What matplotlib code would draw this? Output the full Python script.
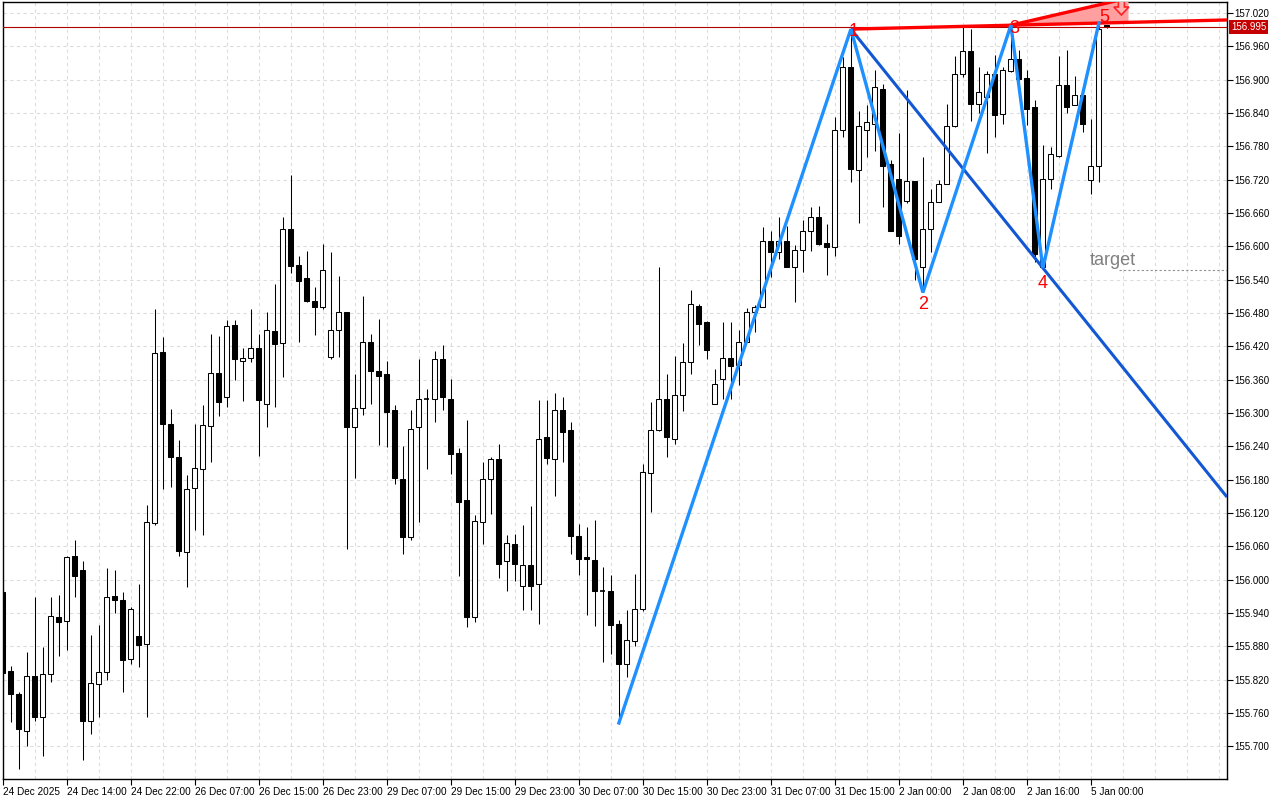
import matplotlib
matplotlib.use('Agg')
import matplotlib.pyplot as plt
from matplotlib.patches import Rectangle, Polygon
from matplotlib import font_manager
import matplotlib.transforms as mtransforms
import numpy as np

avail = {f.name for f in font_manager.fontManager.ttflist}
def pick(*names):
    for n in names:
        if n in avail:
            return n
    return 'DejaVu Sans'
xfont = pick('Liberation Sans Narrow', 'DejaVu Sans Condensed', 'Liberation Sans')
yfont = pick('Liberation Sans', 'Arial', 'DejaVu Sans')
plt.rcParams['font.family'] = [yfont, 'DejaVu Sans']

# ---- data (hourly candles) ----
opens = [155.978,155.836,155.794,155.727,155.827,155.752,155.831,155.932,155.925,156.043,
         156.017,155.746,155.812,155.833,155.971,155.963,155.857,155.898,155.884,156.102,
         156.410,156.280,156.221,156.050,156.165,156.200,156.277,156.372,156.328,156.458,
         156.393,156.399,156.417,156.316,156.447,156.426,156.631,156.566,156.543,156.502,
         156.490,156.400,156.449,156.481,156.274,156.309,156.427,156.376,156.370,156.305,
         156.182,156.077,156.274,156.326,156.325,156.397,156.326,156.228,156.143,155.933,
         156.103,156.182,156.217,156.033,156.064,155.988,156.026,155.992,156.256,156.217,
         156.305,156.269,156.079,156.040,156.035,155.981,155.979,155.920,155.849,155.889,
         155.947,156.192,156.269,156.325,156.254,156.332,156.391,156.493,156.464,156.316,
         156.361,156.399,156.386,156.427,156.481,156.490,156.609,156.589,156.609,156.563,
         156.593,156.627,156.652,156.606,156.598,156.809,156.923,156.737,156.809,156.821,
         156.883,156.749,156.721,156.681,156.717,156.562,156.632,156.680,156.713,156.817,
         156.910,156.952,156.857,156.869,156.910,156.838,156.916,156.937,156.903,156.850,
         156.562,156.721,156.763,156.890,156.854,156.872,156.719,156.744,156.998]
highs = [155.981,155.845,155.798,155.870,155.969,155.879,155.969,155.972,156.043,156.071,
         156.034,155.900,155.918,156.021,156.017,155.978,155.951,155.992,156.134,156.487,
         156.436,156.307,156.251,156.188,156.280,156.314,156.443,156.439,156.467,156.467,
         156.417,156.487,156.442,156.481,156.532,156.653,156.728,156.582,156.592,156.527,
         156.604,156.590,156.547,156.482,156.370,156.511,156.442,156.469,156.394,156.314,
         156.240,156.305,156.397,156.343,156.412,156.422,156.361,156.237,156.287,156.116,
         156.212,156.221,156.245,156.080,156.082,156.098,156.133,156.323,156.323,156.336,
         156.329,156.283,156.100,156.095,156.107,156.022,156.008,155.927,155.945,156.010,
         156.209,156.319,156.563,156.370,156.403,156.426,156.521,156.497,156.466,156.379,
         156.464,156.464,156.449,156.489,156.494,156.635,156.628,156.652,156.637,156.602,
         156.647,156.671,156.673,156.640,156.832,156.941,156.991,156.844,156.854,156.917,
         156.892,156.755,156.804,156.881,156.718,156.761,156.704,156.719,156.856,156.943,
         156.995,156.991,156.923,156.916,156.944,156.923,156.998,156.953,156.917,156.863,
         156.782,156.779,156.943,156.953,156.906,156.872,156.829,157.002,156.999]
lows = [155.827,155.743,155.660,155.701,155.746,155.683,155.816,155.863,155.874,155.968,
        155.675,155.722,155.752,155.820,155.940,155.798,155.848,155.842,155.752,156.098,
        156.164,156.166,156.043,155.987,156.089,156.081,156.211,156.295,156.310,156.360,
        156.322,156.391,156.223,156.274,156.310,156.365,156.552,156.428,156.500,156.441,
        156.487,156.397,156.400,156.055,156.183,156.297,156.316,156.242,156.239,156.172,
        156.046,156.071,156.103,156.200,156.283,156.305,156.191,156.007,155.914,155.924,
        156.065,156.119,156.003,155.980,155.998,155.946,155.946,155.920,156.209,156.151,
        156.211,156.047,156.009,155.937,155.916,155.852,155.866,155.742,155.824,155.881,
        155.944,156.121,156.268,156.220,156.244,156.304,156.370,156.423,156.398,156.316,
        156.326,156.326,156.351,156.427,156.445,156.490,156.545,156.578,156.563,156.500,
        156.553,156.592,156.602,156.549,156.583,156.796,156.716,156.642,156.760,156.772,
        156.671,156.628,156.604,156.678,156.539,156.517,156.589,156.680,156.713,156.815,
        156.905,156.826,156.840,156.768,156.797,156.820,156.914,156.881,156.818,156.572,
        156.561,156.704,156.760,156.840,156.854,156.806,156.695,156.715,156.993]
closes = [155.832,155.794,155.732,155.827,155.752,155.830,155.934,155.924,156.040,156.007,
          155.746,155.814,155.833,155.968,155.964,155.856,155.947,155.883,156.103,156.408,
          156.281,156.220,156.052,156.163,156.201,156.278,156.372,156.319,156.456,156.398,
          156.399,156.417,156.323,156.449,156.424,156.631,156.565,156.538,156.502,156.490,
          156.557,156.449,156.481,156.275,156.309,156.427,156.376,156.367,156.302,156.183,
          156.077,156.272,156.325,156.325,156.397,156.328,156.227,156.140,155.933,156.105,
          156.182,156.217,156.029,156.066,156.029,156.026,155.989,156.254,156.219,156.305,
          156.265,156.079,156.038,156.038,155.980,155.980,155.919,155.848,155.891,155.947,
          156.193,156.269,156.326,156.257,156.332,156.391,156.496,156.461,156.414,156.352,
          156.399,156.385,156.427,156.481,156.491,156.609,156.589,156.609,156.563,156.593,
          156.627,156.652,156.604,156.598,156.809,156.923,156.740,156.816,156.823,156.886,
          156.745,156.628,156.619,156.717,156.578,156.632,156.680,156.713,156.817,156.910,
          156.952,156.857,156.877,156.910,156.836,156.917,156.937,156.901,156.847,156.586,
          156.721,156.766,156.890,156.851,156.872,156.820,156.744,156.992,156.995]

time_labels = ['24 Dec 2025', '24 Dec 14:00', '24 Dec 22:00', '26 Dec 07:00', '26 Dec 15:00',
               '26 Dec 23:00', '29 Dec 07:00', '29 Dec 15:00', '29 Dec 23:00', '30 Dec 07:00',
               '30 Dec 15:00', '30 Dec 23:00', '31 Dec 07:00', '31 Dec 15:00', '2 Jan 00:00',
               '2 Jan 08:00', '2 Jan 16:00', '5 Jan 00:00']
label_step = 8
price_ticks = [157.020, 156.960, 156.900, 156.840, 156.780, 156.720, 156.660, 156.600,
               156.540, 156.480, 156.420, 156.360, 156.300, 156.240, 156.180, 156.120,
               156.060, 156.000, 155.940, 155.880, 155.820, 155.760, 155.700]
current_price = 156.995
target_price = 156.557
wave_bars = [77, 106, 115, 126, 130, 137]     # zigzag pivots (low, high, low, high, low, high)
wave_kinds = ['L', 'H', 'L', 'H', 'L', 'H']
wave_names = ['', '1', '2', '3', '4', '5']
wedge_top_price = 157.047
wedge_end_bar = 140.7

n = len(opens)
wave_prices = [lows[b] if k == 'L' else highs[b] for b, k in zip(wave_bars, wave_kinds)]

# ---- figure ----
W, H = 1280, 800
fig = plt.figure(figsize=(W / 100, H / 100), dpi=100)
ax = fig.add_axes([2.5 / W, 21 / H, 1224.5 / W, 777 / H])
xmin = -0.05
xmax = xmin + 1224.5 / 8
ax.set_xlim(xmin, xmax)
ax.set_ylim(155.6412, 157.0398)

grid_kw = dict(color='#dcdcdc', lw=0.8, ls=(0, (3, 3)), zorder=0)
for p in price_ticks:
    ax.axhline(p, **grid_kw)
for i in range(4, int(xmax) + 1, 4):
    ax.axvline(i, **grid_kw)

lw1 = 0.75
bw = 0.62
for i in range(n):
    o, h, l, c = opens[i], highs[i], lows[i], closes[i]
    ax.vlines(i, l, h, color='black', lw=lw1, zorder=2)
    bot, top = min(o, c), max(o, c)
    if top - bot < 0.0015:
        ax.hlines((o + c) / 2, i - bw / 2, i + bw / 2, color='black', lw=1.2, zorder=3)
    else:
        fc = 'white' if c > o else 'black'
        ax.add_patch(Rectangle((i - bw / 2, bot), bw, top - bot, facecolor=fc,
                               edgecolor='black', lw=lw1, zorder=3))

# current price line
ax.axhline(current_price, color='#b00000', lw=0.8, zorder=4)

# trend line through 1 and 3, and through 1 and 4
b1, p1 = wave_bars[1], wave_prices[1]
b3, p3 = wave_bars[3], wave_prices[3]
b4, p4 = wave_bars[4], wave_prices[4]
s13 = (p3 - p1) / (b3 - b1)
s14 = (p4 - p1) / (b4 - b1)

# wedge
wedge = Polygon([(b3, p3), (wedge_end_bar, wedge_top_price),
                 (wedge_end_bar, p1 + s13 * (wedge_end_bar - b1))],
                closed=True, facecolor='#ff9f9f', edgecolor='none', zorder=4)
ax.add_patch(wedge)
ax.plot([b3, wedge_end_bar], [p3, wedge_top_price], color='#ff0000', lw=2.4, zorder=5)

ax.plot([b1, xmax], [p1, p1 + s13 * (xmax - b1)], color='#ff0000', lw=2.4, zorder=5,
        solid_capstyle='butt')
ax.plot([b1, xmax], [p1, p1 + s14 * (xmax - b1)], color='#1257d4', lw=2.2, zorder=5,
        solid_capstyle='butt')

# zigzag
ax.plot(wave_bars, wave_prices, color='#1e90ff', lw=2.4, zorder=6, solid_joinstyle='miter')

# wave labels
offsets = {'1': (2.2, -1.5), '2': (0, -8.6), '3': (2.2, -2.0), '4': (0, -10.8), '5': (4, 4.0)}
for b, p, name in zip(wave_bars, wave_prices, wave_names):
    if not name:
        continue
    ax.annotate(name, (b, p), xytext=offsets[name], textcoords='offset points',
                ha='center', va='center', color='#ff0000', fontsize=13, zorder=7)

# hollow down arrow near point 5 (drawn in pixel offsets from the pivot)
ax5 = ax.transData.transform((wave_bars[5], wave_prices[5]))
cx = ax5[0] + 22.5
arrow_px = [(-3, 23), (3, 23), (3, 16), (7.5, 16), (0, 8), (-7.5, 16), (-3, 16)]
arrow = Polygon([(cx + dx, ax5[1] + dy) for dx, dy in arrow_px], closed=True,
                facecolor='#ffb0b0', edgecolor='#ff2020', lw=1.2,
                transform=mtransforms.IdentityTransform(), zorder=7)
arrow.set_clip_path(ax.patch)
ax.add_patch(arrow)

# target
ax.annotate('target', (135.9, target_price), xytext=(0, 3.6), textcoords='offset points',
            ha='left', va='baseline', color='#808080', fontsize=13, zorder=7)
ax.plot([139.5, xmax], [target_price, target_price], color='#909090', lw=0.8,
        ls=(0, (2, 2)), zorder=5)

# axes styling
for sp in ax.spines.values():
    sp.set_color('black')
    sp.set_linewidth(1.0)
ax.yaxis.tick_right()
ax.set_yticks(price_ticks)
ax.set_yticklabels([f'{p:.3f}' for p in price_ticks], fontsize=7, family=yfont)
ax.tick_params(axis='y', direction='out', length=4, width=0.8, pad=1.5)
xt = list(range(0, label_step * len(time_labels), label_step))
ax.set_xticks(xt)
ax.set_xticklabels(time_labels, fontsize=7.2, family=xfont, ha='left')
ax.tick_params(axis='x', direction='out', length=4, width=0.8, pad=2)

ax.annotate(f'{current_price:.3f}', xy=(1, current_price), xycoords=('axes fraction', 'data'),
            xytext=(3, 0), textcoords='offset points', ha='left', va='center',
            color='white', fontsize=7, family=yfont,
            bbox=dict(boxstyle='square,pad=0.18', fc='#c40000', ec='none'),
            annotation_clip=False, zorder=10)

fig.savefig('out.png', dpi=100)
